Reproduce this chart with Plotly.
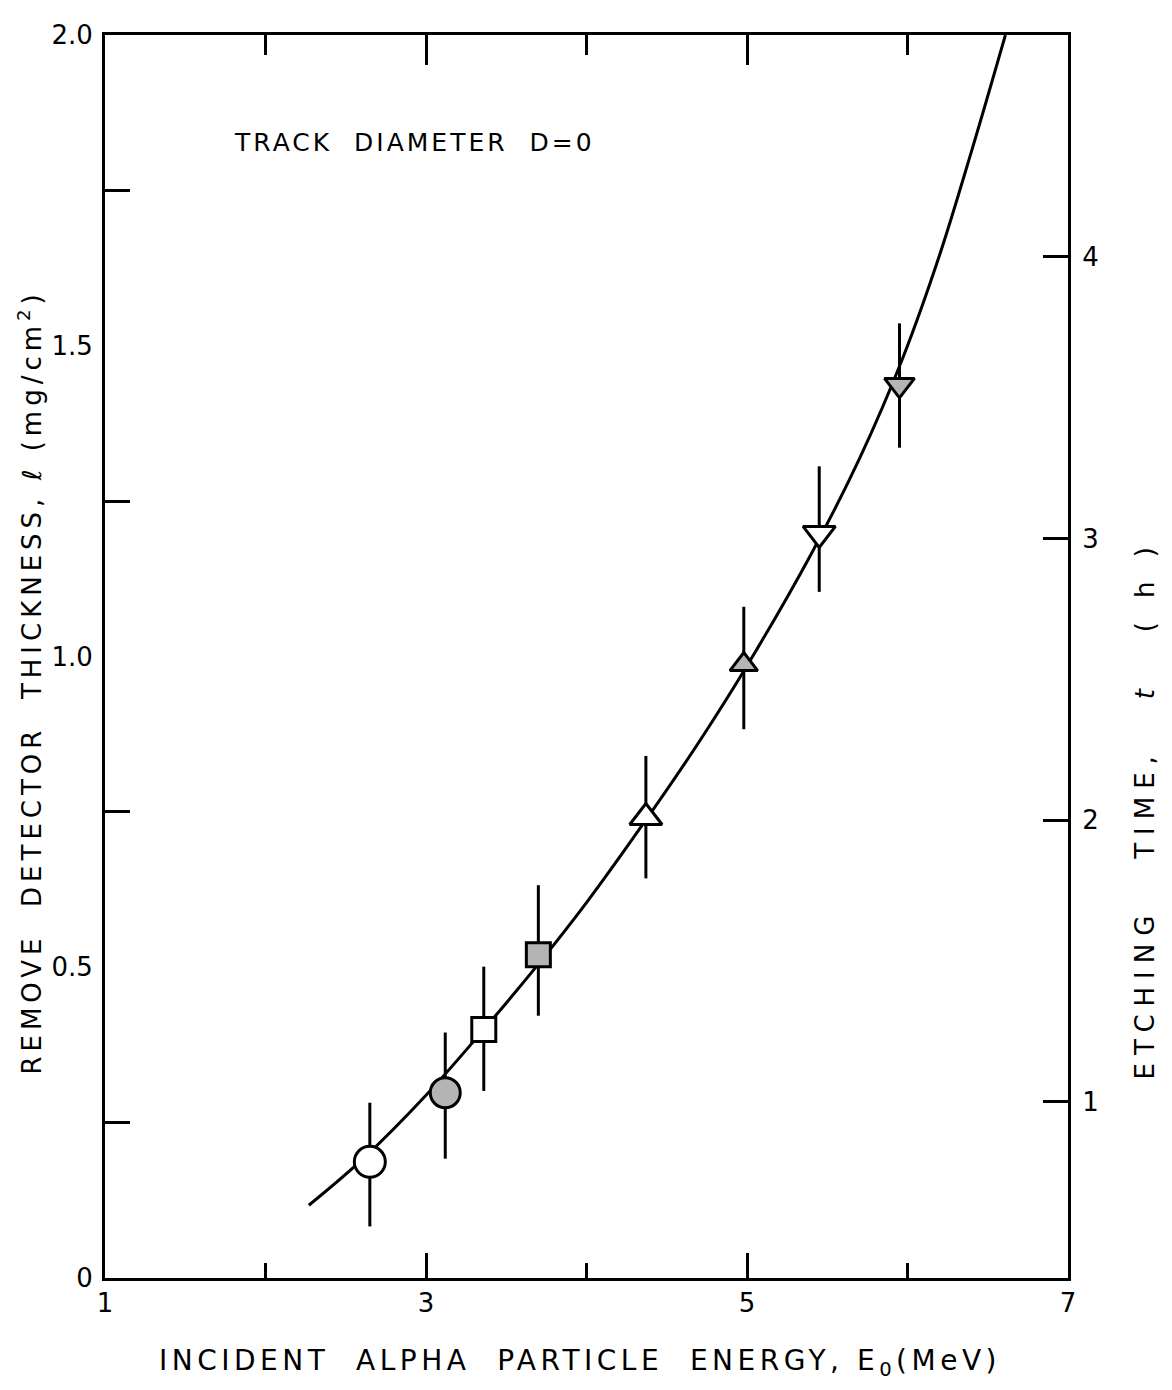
import plotly.graph_objects as go

# ---- data ----
curve_E = [2.27, 2.60, 3.00, 3.40, 3.70, 4.00, 4.37, 4.70, 5.00, 5.40, 5.70, 5.97, 6.20, 6.40, 6.61]
curve_l = [0.117, 0.190, 0.294, 0.412, 0.505, 0.604, 0.737, 0.862, 0.985, 1.165, 1.318, 1.480, 1.646, 1.814, 2.000]

point_E = [2.65, 3.12, 3.36, 3.70, 4.37, 4.98, 5.45, 5.95]
point_l = [0.187, 0.298, 0.400, 0.520, 0.741, 0.987, 1.198, 1.437]
err_plus = [0.095, 0.097, 0.101, 0.112, 0.099, 0.093, 0.108, 0.099]
err_minus = [0.104, 0.106, 0.099, 0.098, 0.098, 0.104, 0.094, 0.101]
point_symbol = ["circle", "circle", "square", "square",
                "triangle-up", "triangle-up", "triangle-down", "triangle-down"]
point_fill = ["white", "#b4b4b4", "white", "#b4b4b4",
              "white", "#b4b4b4", "white", "#b4b4b4"]
point_size = [31, 30, 24, 24, 28, 24, 28, 26]

x_ticks = [1, 3, 5, 7]
x_minor = [2, 4, 6]
y_ticks = [0, 0.5, 1.0, 1.5, 2.0]
y_ticktext = ["0", "0.5", "1.0", "1.5", "2.0"]
y_minor = [0.25, 0.75, 1.25, 1.75]
t_ticks = [1, 2, 3, 4]
t_range = [0.375, 4.787]

FONT = "DejaVu Sans"


def spaced(text, px, size):
    return f'<span style="letter-spacing:{px}px;font-size:{size}px">{text}</span>'


fig = go.Figure()
fig.add_trace(go.Scatter(
    x=curve_E, y=curve_l, mode="lines", line_shape="spline",
    line=dict(color="black", width=3), hoverinfo="skip", showlegend=False))
# error bars (drawn below the markers)
fig.add_trace(go.Scatter(
    x=point_E, y=point_l, mode="markers", showlegend=False, hoverinfo="skip",
    marker=dict(size=1, color="rgba(0,0,0,0)"),
    error_y=dict(type="data", symmetric=False, array=err_plus, arrayminus=err_minus,
                 width=0, thickness=3, color="black")))
fig.add_trace(go.Scatter(
    x=point_E, y=point_l, mode="markers", showlegend=False,
    marker=dict(symbol=point_symbol, color=point_fill, size=point_size, opacity=1,
                line=dict(color="black", width=3))))
# invisible trace to anchor the secondary axes (top ticks, right time scale)
fig.add_trace(go.Scatter(x=[None], y=[None], xaxis="x2", yaxis="y2",
                         showlegend=False, hoverinfo="skip"))

tickfont = dict(family=FONT, size=26, color="black")

fig.update_layout(
    width=1164, height=1382,
    margin=dict(l=97, r=104, t=17, b=112),
    paper_bgcolor="white", plot_bgcolor="white",
    font=dict(family=FONT, color="black"),
    xaxis=dict(range=[1, 7], tickmode="array", tickvals=x_ticks,
               ticks="inside", ticklen=25, tickwidth=3, tickcolor="black",
               minor=dict(tickmode="array", tickvals=x_minor, ticks="inside",
                          ticklen=15, tickwidth=3, tickcolor="black"),
               showline=True, linewidth=3, linecolor="black",
               showgrid=False, zeroline=False, tickfont=tickfont),
    xaxis2=dict(range=[1, 7], overlaying="x", side="top", tickmode="array",
                tickvals=[3, 5], ticks="inside", ticklen=30, tickwidth=3,
                tickcolor="black",
                minor=dict(tickmode="array", tickvals=x_minor, ticks="inside",
                           ticklen=20, tickwidth=3, tickcolor="black"),
                showline=True, linewidth=3, linecolor="black",
                showticklabels=False, showgrid=False, zeroline=False),
    yaxis=dict(range=[0, 2], tickmode="array", tickvals=y_ticks, ticktext=y_ticktext,
               ticks="", ticklabelstandoff=4,
               minor=dict(tickmode="array", tickvals=y_minor, ticks="inside",
                          ticklen=25, tickwidth=3, tickcolor="black"),
               showline=True, linewidth=3, linecolor="black",
               showgrid=False, zeroline=False, tickfont=tickfont),
    yaxis2=dict(range=t_range, overlaying="y", side="right", anchor="x",
                tickmode="array", tickvals=t_ticks,
                ticks="inside", ticklen=25, tickwidth=3, tickcolor="black",
                showline=True, linewidth=3, linecolor="black",
                showgrid=False, zeroline=False, tickfont=tickfont,
                ticklabelstandoff=6),
)

fig.add_annotation(
    text=spaced("TRACK  DIAMETER  D=0", 3, 25),
    x=1.79, y=1.827, xref="x", yref="y", xanchor="left", yanchor="middle",
    showarrow=False, font=dict(family=FONT, size=25, color="black"))
fig.add_annotation(
    text=spaced("INCIDENT  ALPHA  PARTICLE  ENERGY, E<sub>0</sub>(MeV)", 4.5, 28),
    x=0.493, y=0, xref="paper", yref="paper", xanchor="center", yanchor="middle",
    yshift=-84, showarrow=False, font=dict(family=FONT, size=28, color="black"))
fig.add_annotation(
    text=spaced("REMOVE  DETECTOR  THICKNESS, <i>ℓ</i> (mg/cm<sup>2</sup>)", 5, 26),
    x=0, y=0.479, xref="paper", yref="paper", xanchor="center", yanchor="middle",
    xshift=-75, textangle=-90, showarrow=False,
    font=dict(family=FONT, size=26, color="black"))
fig.add_annotation(
    text=spaced("ETCHING   TIME,   <i>t</i>   ( h )", 8, 26),
    x=1, y=0.377, xref="paper", yref="paper", xanchor="center", yanchor="middle",
    xshift=77, textangle=-90, showarrow=False,
    font=dict(family=FONT, size=26, color="black"))

fig.write_html("out.html")
